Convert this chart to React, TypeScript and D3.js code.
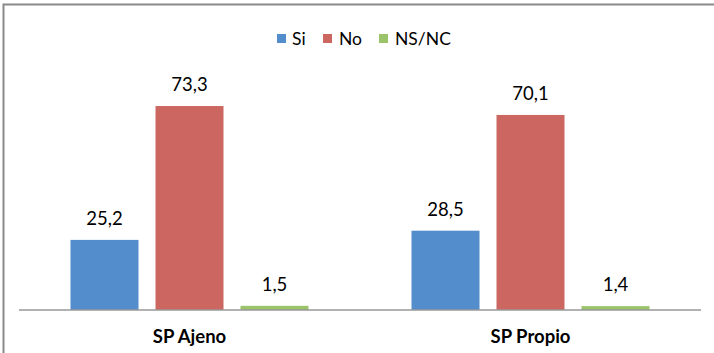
import React from "react";
import * as d3 from "d3";

const categories = ["SP Ajeno", "SP Propio"];
const seriesNames = ["Si", "No", "NS/NC"];
const siValues = [25.2, 28.5];
const noValues = [73.3, 70.1];
const nsncValues = [1.5, 1.4];
const seriesColors = ["#548DCC", "#CB6661", "#9BC46A"];

const W = 714;
const H = 353;
const FONT = "Lato, 'Open Sans', sans-serif";

export default function App() {
  const series = [siValues, noValues, nsncValues];
  const x0 = d3.scaleBand<string>().domain(categories).range([19, 701]).paddingInner(0).paddingOuter(0);
  const x1 = d3
    .scaleBand<string>()
    .domain(seriesNames)
    .range([0, x0.bandwidth()])
    .paddingInner(0.2)
    .paddingOuter(0.606);
  const y = d3.scaleLinear().domain([0, 80]).range([310, 87.4]);
  const fmt = (v: number) => v.toFixed(1).replace(".", ",");

  const legendItems = [
    { name: seriesNames[0], sq: 277, tx: 292 },
    { name: seriesNames[1], sq: 323, tx: 339 },
    { name: seriesNames[2], sq: 379, tx: 395 },
  ];

  return (
    <svg
      width={W}
      height={H}
      style={{ position: "absolute", left: 0, top: 0, background: "#fff" }}
      fontFamily={FONT}
    >
      {/* outer frame */}
      <path d={`M3.5,${H} V4.5 H${W}`} fill="none" stroke="#8a8a8a" strokeWidth={2} />

      {/* legend */}
      {legendItems.map((it, i) => (
        <g key={it.name}>
          <rect x={it.sq} y={34} width={9} height={9} fill={seriesColors[i]} />
          <text x={it.tx} y={45} fontSize={17.5} fill="#000">
            {it.name}
          </text>
        </g>
      ))}

      {/* bars and value labels */}
      {categories.map((cat, ci) => (
        <g key={cat} transform={`translate(${x0(cat)},0)`}>
          {seriesNames.map((s, si) => {
            const v = series[si][ci];
            const bx = x1(s)!;
            return (
              <g key={s}>
                <rect
                  x={bx}
                  y={y(v)}
                  width={x1.bandwidth()}
                  height={y(0) - y(v)}
                  fill={seriesColors[si]}
                />
                <text
                  x={bx + x1.bandwidth() / 2}
                  y={y(v) - 15}
                  textAnchor="middle"
                  fontSize={18.5}
                  fill="#000"
                >
                  {fmt(v)}
                </text>
              </g>
            );
          })}
          <text
            x={x0.bandwidth() / 2}
            y={343}
            textAnchor="middle"
            fontSize={18.5}
            fontWeight="bold"
            fill="#000"
          >
            {cat}
          </text>
        </g>
      ))}

      {/* category axis */}
      <line x1={19} x2={701} y1={310} y2={310} stroke="#999" strokeWidth={1.5} />
    </svg>
  );
}
